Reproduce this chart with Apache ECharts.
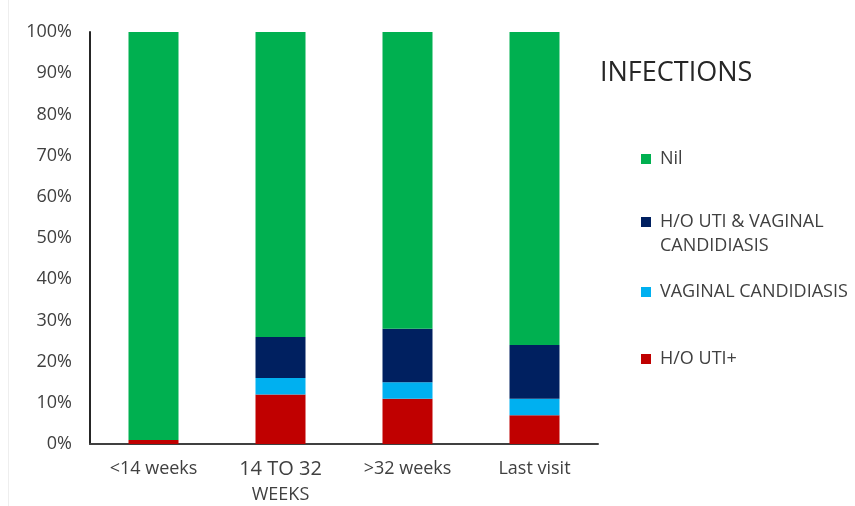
<!DOCTYPE html>
<html>
<head>
<meta charset="utf-8">
<script src="https://cdn.jsdelivr.net/npm/echarts@6/dist/echarts.min.js"></script>
<style>html,body{margin:0;padding:0;background:#fff}#c{width:855px;height:506px}</style>
</head>
<body>
<div id="c"></div>
<script>
var categories = ['<14 weeks', '14 TO 32\nWEEKS', '>32 weeks', 'Last visit'];
var utiValues = [1, 12, 11, 7];
var vcValues = [0, 4, 4, 4];
var utiVcValues = [0, 10, 13, 13];
var nilValues = [99, 74, 72, 76];
var yTicks = [0, 10, 20, 30, 40, 50, 60, 70, 80, 90, 100];

var FONT = 'Open Sans';
var chart = echarts.init(document.getElementById('c'));
function legendItem(name, top, fmt) {
  var l = {
    data: [name], orient: 'vertical', left: 636, top: top,
    itemWidth: 10, itemHeight: 10, itemGap: 0, selectedMode: false,
    icon: 'rect',
    textStyle: { fontFamily: FONT, fontSize: 18, color: '#404040', lineHeight: 24, padding: [0, 0, 0, 4] }
  };
  if (fmt) l.formatter = fmt;
  return l;
}
chart.setOption({
  animation: false,
  title: { text: 'INFECTIONS', left: 595, top: 55,
    textStyle: { fontFamily: FONT, fontSize: 27, fontWeight: 'normal', color: '#262626' } },
  legend: [
    legendItem('Nil', 142),
    legendItem('H/O UTI & VAGINAL\nCANDIDIASIS', 181, function (n) { return '\n' + n; }),
    legendItem('VAGINAL CANDIDIASIS', 275),
    legendItem('H/O UTI+', 342)
  ],
  grid: { left: 90, right: 257, top: 32, bottom: 62, containLabel: false, outerBoundsMode: 'none' },
  xAxis: {
    type: 'category', data: categories,
    axisLine: { lineStyle: { color: '#404040', width: 2 } },
    axisTick: { show: false },
    axisLabel: {
      interval: 0, hideOverlap: false,
      margin: 12, fontFamily: FONT, fontSize: 18, color: '#404040', lineHeight: 26,
      formatter: function (v) {
        if (v.indexOf('\n') >= 0) { var p = v.split('\n'); return '{b|' + p[0] + '}\n{s|' + p[1] + '}'; }
        return v;
      },
      rich: { b: { fontFamily: FONT, fontSize: 20, color: '#404040', lineHeight: 26 },
              s: { fontFamily: FONT, fontSize: 18, color: '#404040', lineHeight: 26 } }
    }
  },
  yAxis: {
    type: 'value', min: 0, max: 100, interval: 10,
    axisLine: { show: true, lineStyle: { color: '#262626', width: 2 } },
    axisTick: { show: false },
    splitLine: { show: false },
    axisLabel: { margin: 18, fontFamily: FONT, fontSize: 18, color: '#404040',
      formatter: function (v) { return yTicks.indexOf(v) >= 0 ? v + '%' : ''; } }
  },
  series: [
    { name: 'H/O UTI+', type: 'bar', stack: 's', barWidth: 50, data: utiValues, itemStyle: { color: '#C00000' } },
    { name: 'VAGINAL CANDIDIASIS', type: 'bar', stack: 's', data: vcValues, itemStyle: { color: '#00B0F0' } },
    { name: 'H/O UTI & VAGINAL\nCANDIDIASIS', type: 'bar', stack: 's', data: utiVcValues, itemStyle: { color: '#002060' } },
    { name: 'Nil', type: 'bar', stack: 's', data: nilValues, itemStyle: { color: '#00B050' } }
  ],
  graphic: [{ type: 'line', shape: { x1: 8.5, y1: 0, x2: 8.5, y2: 506 }, style: { stroke: '#eeeeee', lineWidth: 1 } }]
});
</script>
</body>
</html>
